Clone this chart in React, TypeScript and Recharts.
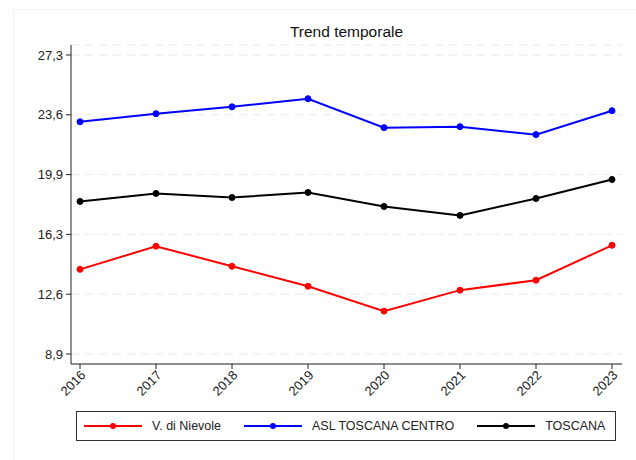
import { CartesianGrid, Line, LineChart, XAxis, YAxis } from 'recharts';

const years = ['2016', '2017', '2018', '2019', '2020', '2021', '2022', '2023'];
const nievole = [14.11, 15.53, 14.3, 13.07, 11.54, 12.83, 13.44, 15.59];
const aslCentro = [23.19, 23.69, 24.11, 24.61, 22.83, 22.89, 22.4, 23.87];
const toscana = [18.29, 18.78, 18.53, 18.84, 17.98, 17.43, 18.47, 19.64];
const yTicks = [8.9, 12.58, 16.26, 19.94, 23.62, 27.3];

const series = [
  { key: 'nievole', name: 'V. di Nievole', color: '#ff0000' },
  { key: 'asl', name: 'ASL TOSCANA CENTRO', color: '#0000ff' },
  { key: 'toscana', name: 'TOSCANA', color: '#000000' },
];

const data = years.map((year, i) => ({
  year,
  nievole: nievole[i],
  asl: aslCentro[i],
  toscana: toscana[i],
}));

const font = '"Liberation Sans", Arial, sans-serif';
const fmt = (v: number) => v.toFixed(1).replace('.', ',');

function YearTick({ x, y, payload }: any) {
  return (
    <g transform={`translate(${x},${y})`}>
      <text
        x={0}
        y={0}
        dy={8}
        dx={1}
        textAnchor="end"
        transform="rotate(-45)"
        fontSize={13}
        fontFamily={font}
        fill="#222"
      >
        {payload.value}
      </text>
    </g>
  );
}

function LegendBox() {
  return (
    <div
      style={{
        position: 'absolute',
        left: 76,
        top: 411,
        width: 538,
        height: 28,
        border: '1px solid #333',
        display: 'flex',
        alignItems: 'center',
        fontFamily: font,
        fontSize: 12.5,
        color: '#222',
      }}
    >
      {series.map((s, i) => (
        <div key={s.key} style={{ display: 'flex', alignItems: 'center', marginLeft: i === 0 ? 7 : 23 }}>
          <svg width={58} height={10}>
            <line x1={0} y1={5} x2={58} y2={5} stroke={s.color} strokeWidth={2} />
            <circle cx={29} cy={5} r={3} fill={s.color} />
          </svg>
          <span style={{ marginLeft: 10 }}>{s.name}</span>
        </div>
      ))}
    </div>
  );
}

export default function App() {
  return (
    <div style={{ position: 'absolute', left: 0, top: 0, width: 636, height: 460, overflow: 'hidden', background: '#fff' }}>
      <div
        style={{
          position: 'absolute',
          left: 13,
          top: 9,
          width: 700,
          height: 500,
          borderLeft: '1px solid #edf2f2',
          borderTop: '1px solid #edf2f2',
        }}
      />
      <div
        style={{
          position: 'absolute',
          left: 71,
          width: 551,
          top: 23,
          textAlign: 'center',
          fontFamily: font,
          fontSize: 15.5,
          color: '#111',
        }}
      >
        Trend temporale
      </div>
      <LineChart
        width={636}
        height={460}
        data={data}
        margin={{ top: 45, right: 14, bottom: 46, left: 11 }}
        style={{ position: 'absolute', left: 0, top: 0 }}
      >
        <CartesianGrid vertical={false} stroke="#e8e8e8" strokeDasharray="8 6" />
        <XAxis
          dataKey="year"
          height={50}
          padding={{ left: 9, right: 10 }}
          axisLine={{ stroke: '#222' }}
          tickLine={{ stroke: '#222' }}
          tickSize={5}
          tick={<YearTick />}
          interval={0}
        />
        <YAxis
          width={60}
          domain={[8.285, 27.915]}
          ticks={yTicks}
          tickFormatter={fmt}
          axisLine={{ stroke: '#222' }}
          tickLine={{ stroke: '#222' }}
          tickSize={5}
          tickMargin={3}
          tick={{ fontSize: 13, fontFamily: font, fill: '#222' }}
        />
        {series.map((s) => (
          <Line
            key={s.key}
            type="linear"
            dataKey={s.key}
            name={s.name}
            stroke={s.color}
            strokeWidth={2}
            dot={{ r: 3, fill: s.color, stroke: s.color, strokeWidth: 1 }}
            isAnimationActive={false}
          />
        ))}
      </LineChart>
      <LegendBox />
    </div>
  );
}
